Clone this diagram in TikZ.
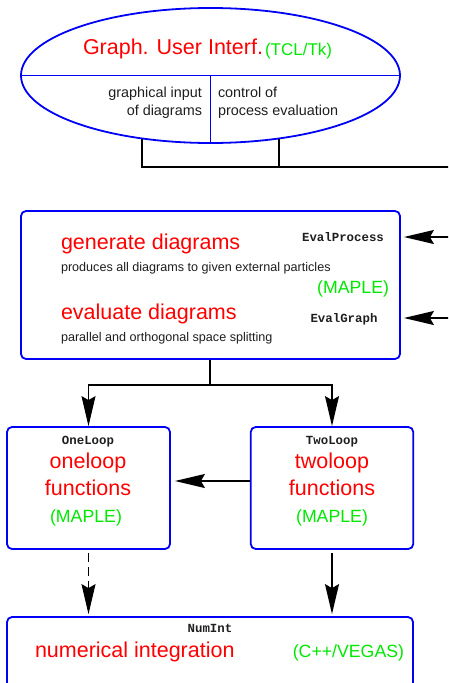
\documentclass[tikz,border=0pt]{standalone}
\usepackage{fontspec}
\setmainfont{Liberation Sans}
\newfontfamily\codefont{Liberation Mono}[BoldFont={Liberation Mono Bold}]
\usetikzlibrary{shapes.geometric,arrows.meta}
\definecolor{mygreen}{RGB}{0,232,0}
\definecolor{myblue}{RGB}{0,0,245}
\definecolor{mytext}{RGB}{30,30,30}
\tikzset{
  frame/.style={draw=myblue, line width=1.8pt, rounded corners=5pt, inner sep=0pt},
  txt/.style={inner sep=0pt, outer sep=0pt},
  hdr/.style={txt, text=red, font=\fontsize{21.5}{24}\selectfont},
  lang/.style={txt, text=mygreen, font=\fontsize{17.7}{20}\selectfont},
  small/.style={txt, text=mytext, font=\fontsize{12.6}{15}\selectfont},
  mid/.style={txt, text=mytext, font=\fontsize{14.4}{17}\selectfont},
  code/.style={txt, text=mytext, font=\codefont\bfseries\fontsize{12.4}{14}\selectfont},
  conn/.style={draw=black, line width=1.4pt},
  arr/.style={conn, -{Stealth[length=30pt,width=14pt,inset=4pt]}},
}
\begin{document}
\begin{tikzpicture}[x=1pt,y=-1pt]
\useasboundingbox (0,0) rectangle (448,683);
\clip (0,0) rectangle (448,683);

% GUI ellipse
\node[ellipse, draw=myblue, line width=1.8pt, minimum width=379pt, minimum height=135pt, inner sep=0pt] (gui) at (210.5,75.5) {};
\draw[draw=myblue, line width=1.8pt] (gui.west) -- (gui.east);
\draw[draw=myblue, line width=1.8pt] (gui.center) -- (gui.south);
\node[hdr, anchor=base west] (guit) at (83,54) {Graph. User Interf.};
\node[lang, anchor=base west, font=\fontsize{17}{20}\selectfont] (guil) at (265,55) {(TCL/Tk)};
\node[mid, anchor=base east] (gi1) at (202,97.5) {graphical input};
\node[mid, anchor=base east] (gi2) at (202,115) {of diagrams};
\node[mid, anchor=base west] (gc1) at (218,97.5) {control of};
\node[mid, anchor=base west] (gc2) at (218,115) {process evaluation};

\coordinate (rt) at (470,167);
\draw[conn] (gui.223) |- (rt);
\draw[conn] (gui.317) -- (gui.317 |- rt);

% main process box
\node[frame, minimum width=379pt, minimum height=148pt] (proc) at (210.5,285) {};
\node[hdr, anchor=base west] (gen) at (61,249) {generate diagrams};
\node[small, anchor=base west] (gend) at (61,271) {produces all diagrams to given external particles};
\node[lang, anchor=base east] (procl) at (389,293) {(MAPLE)};
\node[hdr, anchor=base west] (eva) at (61,319) {evaluate diagrams};
\node[small, anchor=base west] (evad) at (61,341) {parallel and orthogonal space splitting};
\node[code, anchor=base] (ep) at (343,241) {EvalProcess};
\node[code, anchor=base] (eg) at (344,322) {EvalGraph};

\coordinate (in1) at (470,237);
\coordinate (in2) at (470,318);
\draw[arr, shorten >=3pt] (in1) -- (proc.east |- in1);
\draw[arr, shorten >=3pt] (in2) -- (proc.east |- in2);

% loop boxes
\node[frame, minimum width=163pt, minimum height=122pt] (one) at (88.5,488) {};
\node[frame, minimum width=162.5pt, minimum height=122pt] (two) at (332,488) {};
\node[code, anchor=base] (onec) at (88,444) {OneLoop};
\node[hdr, anchor=base] (onet1) at (88,468) {oneloop};
\node[hdr, anchor=base] (onet2) at (88,495) {functions};
\node[lang, anchor=base] (onel) at (86,522.5) {(MAPLE)};
\node[code, anchor=base] (twoc) at (332,444) {TwoLoop};
\node[hdr, anchor=base] (twot1) at (332,468) {twoloop};
\node[hdr, anchor=base] (twot2) at (332,495) {functions};
\node[lang, anchor=base] (twol) at (332,522.5) {(MAPLE)};

\coordinate (split) at (210,385);
\draw[conn] (proc.south -| split) -- (split);
\draw[arr] (split) -| (one.north);
\draw[arr] (split) -| (two.north);
\draw[arr, shorten >=4pt] (two.west |- 0,481) -- (one.east |- 0,481);

% numerical integration box
\node[frame, minimum width=406pt, minimum height=100pt] (num) at (210,667) {};
\node[code, anchor=base] (numc) at (210,632) {NumInt};
\node[hdr, anchor=base west] (numt) at (35,657) {numerical integration};
\node[lang, anchor=base east] (numl) at (404,657) {(C++/VEGAS)};

\draw[arr, dash pattern=on 9pt off 5pt, shorten <=3pt, shorten >=2pt] (one.south) -- (one.south |- num.north);
\draw[arr, shorten <=3pt, shorten >=2pt] (two.south) -- (two.south |- num.north);
\end{tikzpicture}
\end{document}
